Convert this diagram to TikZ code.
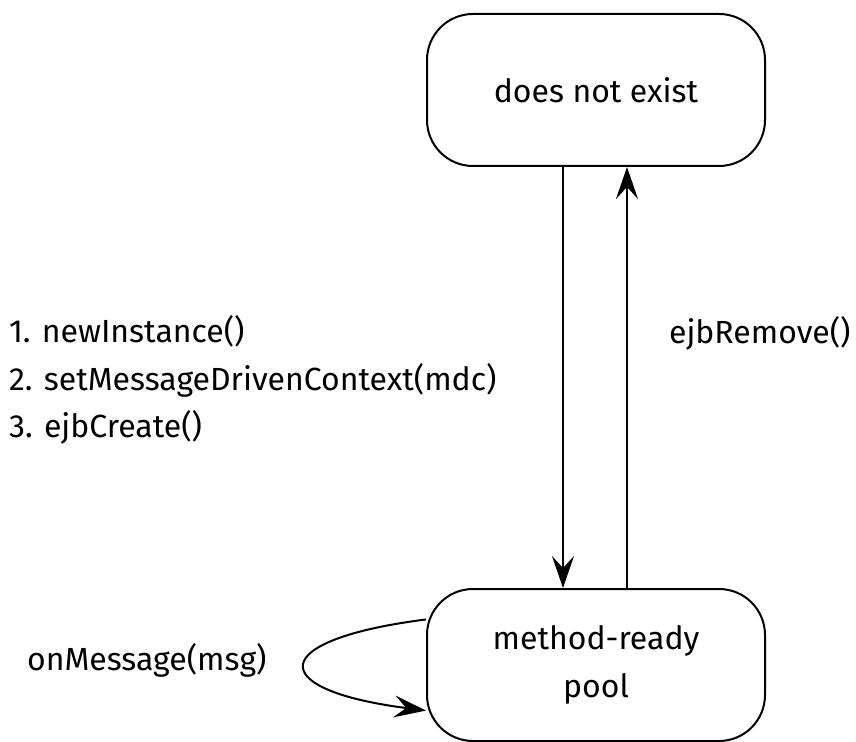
\documentclass[tikz,border=0pt]{standalone}
\usepackage{fontspec}
\setmainfont{Fira Sans}
\usepackage{tikz}
\usetikzlibrary{arrows.meta,positioning}

\begin{document}
\begin{tikzpicture}[x=0.5pt, y=-0.5pt, every node/.style={font=\fontsize{16}{23.75}\selectfont},
    state/.style={draw, line width=1pt, rounded corners=23pt, minimum width=169pt, minimum height=76pt, align=center},
    arr/.style={-{Stealth[length=16pt,width=11pt,inset=6pt]}, line width=1pt}]
    \useasboundingbox (0,0) rectangle (856,742);
    \node[state] (dne) at (596,90) {does not exist};
    \node[state] (pool) at (596,665) {method-ready\\pool};
    \node[anchor=west, align=left] (create) at (2,380) {1. newInstance()\\2. setMessageDrivenContext(mdc)\\3. ejbCreate()};
    \node[anchor=west] (remove) at (662,333) {ejbRemove()};
    \node[anchor=west] (onmsg) at (20,660) {onMessage(msg)};
    \draw[arr] ([xshift=-16.5pt]dne.south) -- ([xshift=-16.5pt]pool.north);
    \draw[arr] ([xshift=15.5pt]pool.north) -- ([xshift=15.5pt]dne.south);
    \draw[arr] (pool.165) .. controls (265,640) and (265,690) .. (pool.195);
\end{tikzpicture}
\end{document}
